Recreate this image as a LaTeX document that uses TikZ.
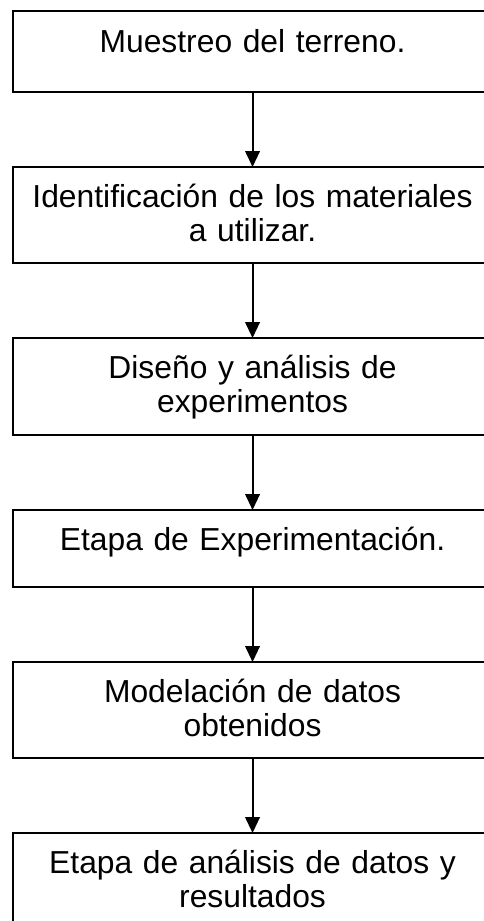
\documentclass[tikz,border=0pt]{standalone}
\usepackage{fontspec}
\setmainfont{Liberation Sans}
\usetikzlibrary{positioning,arrows.meta}

\tikzset{
  stepbox/.style={draw, line width=1.5pt, text width=360pt, align=center,
    inner xsep=0pt, inner ysep=0pt, outer sep=0pt, text height=30.5pt,
    font=\fontsize{23.85}{25.7}\selectfont},
  flecha/.style={line width=1.5pt, -{Triangle[width=11pt,length=12pt]}}
}

\begin{document}
\begin{tikzpicture}
  \useasboundingbox (0,0) rectangle (363pt,-690.75pt);
  \node[stepbox, text depth=29.9pt, anchor=north west] (b1) at (9.4pt,-8.6pt) {Muestreo del terreno.};
  \node[stepbox, text depth=41.5pt, below=56.25pt of b1] (b2) {Identificación de los materiales\\ a utilizar.};
  \node[stepbox, text depth=42.25pt, below=56.25pt of b2] (b3) {Diseño y análisis de\\ experimentos};
  \node[stepbox, text depth=27.25pt, below=56.25pt of b3] (b4) {Etapa de Experimentación.};
  \node[stepbox, text depth=41.5pt, below=56.25pt of b4] (b5) {Modelación de datos\\ obtenidos};
  \node[stepbox, text depth=41.5pt, below=56.25pt of b5] (b6) {Etapa de análisis de datos y\\ resultados};
  \foreach \a/\b in {b1/b2,b2/b3,b3/b4,b4/b5,b5/b6}
    \draw[flecha] (\a) -- (\b);
\end{tikzpicture}
\end{document}
